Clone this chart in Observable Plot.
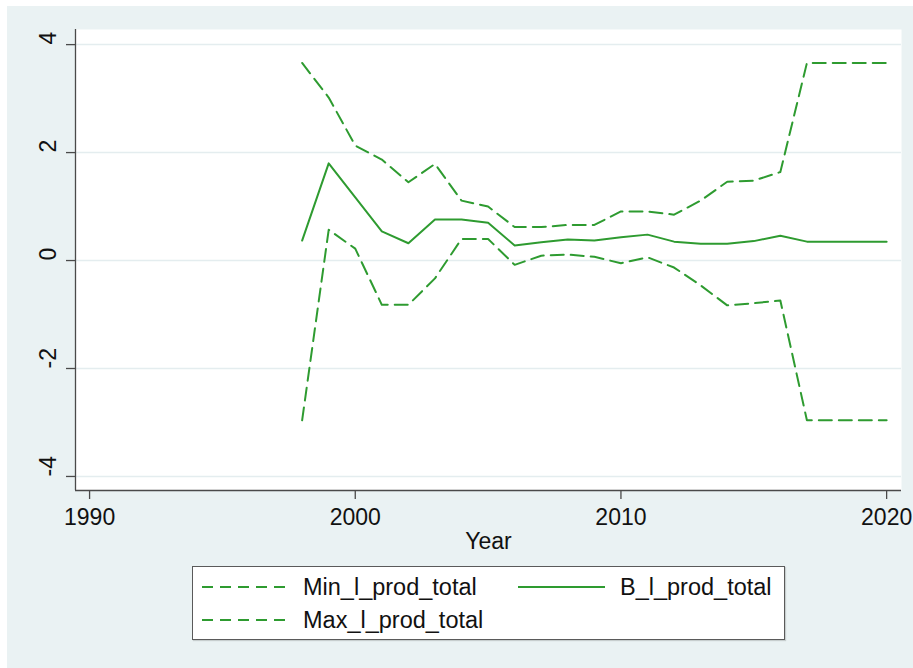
<!DOCTYPE html>
<html>
<head>
<meta charset="utf-8">
<script src="https://cdn.jsdelivr.net/npm/d3@7"></script>
<script src="https://cdn.jsdelivr.net/npm/@observablehq/plot@0.6"></script>
<style>
  html, body { margin: 0; padding: 0; background: #ffffff; }
  body { width: 913px; height: 668px; position: relative; overflow: hidden; font-family: "Liberation Sans", Arial, sans-serif; }
  #bg { position: absolute; left: 7px; top: 6px; width: 906px; height: 662px; background: #eaf2f3; }
  #chart { position: absolute; left: 0; top: 0; }
  #legend { position: absolute; left: 192px; top: 566px; width: 591px; height: 72px; background: #ffffff; border: 1px solid #5a5a5a; box-shadow: 1px 1px 1px rgba(0,0,0,0.15); }
  .lg { position: absolute; font-size: 23.5px; color: #111; line-height: 30px; height: 30px; white-space: nowrap; }
  .ls { position: absolute; }
</style>
</head>
<body>
<div id="bg"><div id="chart"></div></div>
<div id="legend"></div>
<script>
// ---- data ----
const years   = [1998, 1999, 2000, 2001, 2002, 2003, 2004, 2005, 2006, 2007, 2008, 2009, 2010, 2011, 2012, 2013, 2014, 2015, 2016, 2017, 2018, 2019, 2020];
const bVals   = [0.37, 1.80, 1.17, 0.54, 0.32, 0.76, 0.76, 0.70, 0.28, 0.34, 0.39, 0.37, 0.43, 0.48, 0.35, 0.31, 0.31, 0.36, 0.46, 0.35, 0.35, 0.35, 0.35];
const minVals = [-2.96, 0.57, 0.22, -0.82, -0.82, -0.33, 0.40, 0.40, -0.08, 0.09, 0.11, 0.07, -0.05, 0.06, -0.13, -0.46, -0.83, -0.79, -0.74, -2.96, -2.96, -2.96, -2.96];
const maxVals = [3.66, 3.02, 2.13, 1.87, 1.45, 1.79, 1.11, 1.00, 0.62, 0.62, 0.66, 0.66, 0.91, 0.91, 0.85, 1.11, 1.46, 1.48, 1.64, 3.66, 3.66, 3.66, 3.66];
const seriesNames = ["Min_l_prod_total", "B_l_prod_total", "Max_l_prod_total"];
const xTicks = [1990, 2000, 2010, 2020];
const yTicks = [-4, -2, 0, 2, 4];
const xTitle = "Year";

// ---- styles ----
const green = "#2e9b30";
const axisColor = "#4a4a4a";
const gridColor = "#e4edef";
const dash = "13,7";

const toRows = vals => years.map((y, i) => ({year: y, value: vals[i]}));
const bRows = toRows(bVals), minRows = toRows(minVals), maxRows = toRows(maxVals);

const xDom = [1989.47, 2020.56];
const yDom = [-4.26, 4.28];

const chart = Plot.plot({
  width: 906,
  height: 560,
  marginLeft: 68,
  marginRight: 12,
  marginTop: 23,
  marginBottom: 76,
  style: {background: "transparent", fontFamily: "'Liberation Sans', Arial, sans-serif", color: "#111"},
  x: {domain: xDom, axis: null},
  y: {domain: yDom, axis: null},
  marks: [
    Plot.frame({fill: "white", stroke: "none"}),
    Plot.gridY(yTicks, {stroke: gridColor, strokeOpacity: 1, strokeWidth: 1.5}),
    Plot.line(minRows, {x: "year", y: "value", stroke: green, strokeWidth: 2, strokeDasharray: dash}),
    Plot.line(maxRows, {x: "year", y: "value", stroke: green, strokeWidth: 2, strokeDasharray: dash}),
    Plot.line(bRows, {x: "year", y: "value", stroke: green, strokeWidth: 2}),
    Plot.ruleX([xDom[0]], {stroke: axisColor, strokeWidth: 1.3}),
    Plot.ruleY([yDom[0]], {stroke: axisColor, strokeWidth: 1.3}),
    Plot.axisX({ticks: xTicks, tickSize: 9, tickFormat: () => "", label: null, stroke: axisColor, strokeWidth: 1.3}),
    Plot.axisY({ticks: yTicks, tickSize: 9, tickFormat: () => "", label: null, stroke: axisColor, strokeWidth: 1.3}),
    Plot.text(xTicks, {x: d => d, frameAnchor: "bottom", dy: 34, text: d => String(d), fontSize: 23, fill: "#111"}),
    Plot.text(yTicks, {y: d => d, frameAnchor: "left", dx: -27, rotate: -90, text: d => String(d), fontSize: 23, fill: "#111"}),
    Plot.text([xTitle], {frameAnchor: "bottom", dy: 58, text: d => d, fontSize: 23, fill: "#111"})
  ]
});
document.getElementById("chart").appendChild(chart);

// ---- legend (page coords relative to legend box at 193,567) ----
const legend = document.getElementById("legend");
const L0x = 193, L0y = 567;
const items = [
  {name: seriesNames[0], dashed: true,  sx: 202, tx: 303, cy: 587},
  {name: seriesNames[1], dashed: false, sx: 518, tx: 620, cy: 587},
  {name: seriesNames[2], dashed: true,  sx: 202, tx: 303, cy: 620}
];
items.forEach(it => {
  const w = it.dashed ? 86 : 87;
  const svg = d3.create("svg").attr("class", "ls")
    .attr("width", w).attr("height", 6)
    .style("left", (it.sx - L0x) + "px").style("top", (it.cy - 3 - L0y) + "px");
  svg.append("line").attr("x1", 0).attr("x2", w).attr("y1", 3).attr("y2", 3)
    .attr("stroke", green).attr("stroke-width", 2)
    .attr("stroke-dasharray", it.dashed ? "11,7" : null);
  legend.appendChild(svg.node());
  const t = document.createElement("div");
  t.className = "lg";
  t.textContent = it.name;
  t.style.left = (it.tx - L0x) + "px";
  t.style.top = (it.cy - 15 - L0y) + "px";
  legend.appendChild(t);
});
</script>
</body>
</html>
